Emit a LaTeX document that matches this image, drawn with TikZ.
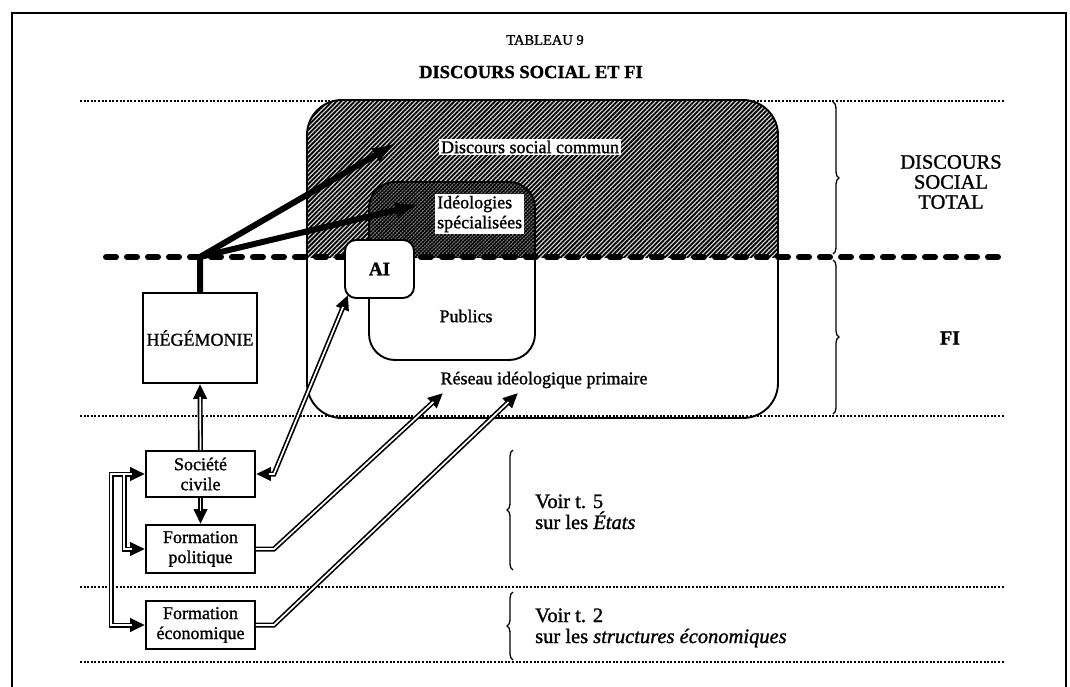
\documentclass[tikz,border=0pt]{standalone}
\usepackage{fontspec}
\setmainfont{Liberation Serif}[FakeBold=1.2]
\usetikzlibrary{arrows.meta,patterns.meta,decorations.pathreplacing,calc}
\newcommand\fsz[2]{\fontsize{#1}{#2}\selectfont}
\begin{document}
\begin{tikzpicture}[x=1pt,y=-1pt,
  every node/.style={inner sep=0pt},
  dotline/.style={line width=1.6pt,dash pattern=on 2pt off 1.6pt},
  boxn/.style={draw,line width=1.9pt,minimum width=109pt,minimum height=48pt,align=center,font=\fsz{18}{20}},
  lbl/.style={font=\fsz{18}{20}},
  wlbl/.style={fill=white,inner sep=2pt,font=\fsz{18}{20}},
  vlbl/.style={font=\fsz{20.5}{21},anchor=base west},
  dblo/.style={line width=5pt,line join=miter},
  dbli/.style={white,line width=1.7pt,line join=miter},
  tipe/.style={-{Triangle[length=15pt,width=13pt]}},
  tipb/.style={{Triangle[length=15pt,width=13pt]}-{Triangle[length=15pt,width=13pt]}},
  bigarrow/.style={line width=6pt,line join=round,-{Latex[length=26pt,width=16pt]}},
  brc/.style={decorate,decoration={brace,amplitude=6pt},line width=1.3pt}
]
\useasboundingbox (0,0) rectangle (1070,687);
\fill[white] (0,0) rectangle (1070,687);
\draw[line width=2pt] (12,687) -- (12,13) -- (1066,13) -- (1066,687);

\node[font=\fsz{14.5}{16}] (tab) at (545,40) {TABLEAU 9};
\node[font=\bfseries\fsz{18.5}{20}] (title) at (531,72) {DISCOURS SOCIAL ET FI};

\foreach \yy in {101,416,587,662} \draw[dotline] (80,\yy) -- (1004,\yy);

% hatched regions
\begin{scope}
  \clip[rounded corners=35pt] (307,100) rectangle (778,418);
  \fill[black!15] (300,90) rectangle (790,257);
  \fill[pattern={Lines[angle=45,distance=3.2pt,line width=1.8pt]}] (300,90) rectangle (790,257);
\end{scope}
\begin{scope}
  \clip[rounded corners=26pt] (369,182) rectangle (535,360);
  \fill[black!50] (360,175) rectangle (545,257);
  \fill[pattern={Lines[angle=45,distance=2.6pt,line width=1.3pt]}] (360,175) rectangle (545,257);
  \fill[pattern={Lines[angle=-45,distance=2.6pt,line width=0.5pt]}] (360,175) rectangle (545,257);
\end{scope}
\draw[line width=1.9pt,rounded corners=35pt] (307,100) rectangle (778,418);
\draw[line width=1.9pt,rounded corners=26pt] (369,182) rectangle (535,360);

\draw[line width=6pt,line cap=round,dash pattern=on 10pt off 11pt] (106,257) -- (1004,257);

\node[wlbl] (dsc) at (530,147) {Discours social commun};
\node[wlbl,align=left,anchor=west] (ids) at (435,214) {Idéologies\\spécialisées};
\node[lbl] (pubs) at (466,316) {Publics};
\node[lbl] (rip) at (544,380) {Réseau idéologique primaire};
\node[draw,line width=1.9pt,fill=white,rounded corners=11pt,minimum width=69pt,minimum height=58pt,font=\bfseries\fsz{19}{21}] (ai) at (379.5,269) {AI};

\node[boxn,minimum width=114pt,minimum height=90pt] (heg) at (200,338) {HÉGÉMONIE};
\node[boxn,minimum height=46pt] (civ) at (200.5,474) {Société\\civile};
\node[boxn] (pol) at (200.5,549) {Formation\\politique};
\node[boxn] (eco) at (200.5,625) {Formation\\économique};

\node[font=\fsz{20.5}{20},align=center] (dst) at (951,182) {DISCOURS\\SOCIAL\\TOTAL};
\node[font=\bfseries\fsz{20}{22}] (fi) at (950,338) {FI};

\node[vlbl] (v5a) at (535,508) {Voir t. 5};
\node[vlbl] (v5b) at (535,529) {sur les \textit{États}};
\node[vlbl] (v2a) at (535,622) {Voir t. 2};
\node[vlbl] (v2b) at (535,643) {sur les \textit{structures économiques}};

\draw[brc] (833,102) -- (833,254);
\draw[brc] (833,260) -- (833,414);
\draw[brc] (513,570) -- (513,450);
\draw[brc] (513,660) -- (513,592);

% thick arrows
\coordinate (br) at (200,257);
\coordinate (tA) at (398,142);
\coordinate (tB) at (421,204);
\draw[bigarrow] (heg.north) -- (br) -- (tA);
\draw[bigarrow] (br) -- (tB);

% double-line arrows: black outer strokes first, white inner strokes after
\coordinate (tP) at (443,393);
\coordinate (tE) at (518,393);
\coordinate (tAI) at ([shift={(4,-4)}]ai.south west);
\draw[dblo,tipe] (civ.north) -- (heg.south);
\draw[dblo,tipe] (civ.south) -- (pol.north);
\draw[dblo,tipb] (civ.east) -- ++(18,0) -- (tAI);
\draw[dblo,tipe] (pol.east) -- ++(18,0) -- (tP);
\draw[dblo,tipe] (eco.east) -- ++(18,0) -- (tE);
\draw[dblo,tipe] ($(civ.west)+(-21,0)$) |- (pol.west);
\draw[dblo,tipb] (civ.west) -- ++(-34,0) |- (eco.west);

\draw[dbli,shorten >=13pt] (civ.north) -- (heg.south);
\draw[dbli,shorten >=13pt] (civ.south) -- (pol.north);
\draw[dbli,shorten >=13pt,shorten <=13pt] (civ.east) -- ++(18,0) -- (tAI);
\draw[dbli,shorten >=13pt] (pol.east) -- ++(18,0) -- (tP);
\draw[dbli,shorten >=13pt] (eco.east) -- ++(18,0) -- (tE);
\draw[dbli,shorten >=13pt] ($(civ.west)+(-21,0)$) |- (pol.west);
\draw[dbli,shorten >=13pt,shorten <=13pt] (civ.west) -- ++(-34,0) |- (eco.west);
\end{tikzpicture}
\end{document}
